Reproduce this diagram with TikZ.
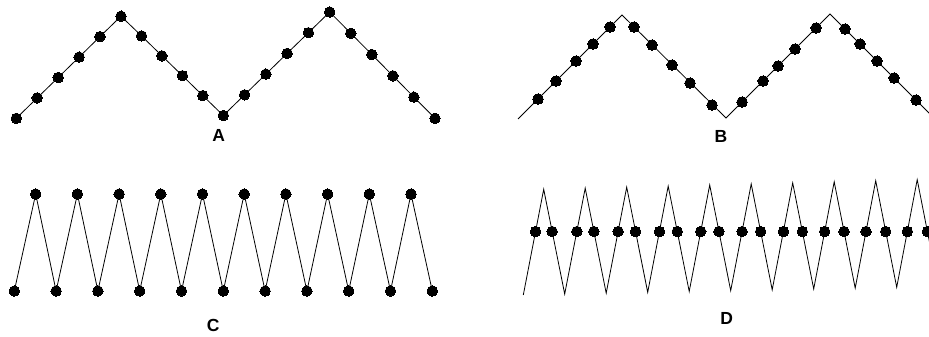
\documentclass[tikz,border=0pt]{standalone}
\usepackage{fontspec}
\setmainfont{Liberation Sans}
\usetikzlibrary{intersections}

\begin{document}
\begin{tikzpicture}[x=1pt, y=-1pt, line width=0.8pt,
		dot/.style={draw, circle, fill=black, inner sep=0pt, minimum size=10.5pt, line width=0pt},
		lbl/.style={font=\bfseries\fontsize{17.5}{17.5}\selectfont, inner sep=0pt}]
				\useasboundingbox (0,0) rectangle (929,337);
				% A
				\foreach \x/\y [count=\i] in {16.3/118.3, 37.2/97.9, 58.2/77.5, 79.1/57.1, 100/36.6, 121/16.2, 141.5/35.9, 161.9/55.8, 182.4/75.7, 202.8/95.6, 223.3/115.5, 244.6/94.8, 265.9/74.1, 287.1/53.4, 308.4/32.7, 329.7/12, 350.8/33.3, 371.8/54.5, 392.9/75.8, 413.9/97.1, 435/118.3}
					\node[dot] (a\i) at (\x,\y) {};
				\foreach \i [count=\j from 2] in {1,...,20}
					\draw (a\i) -- (a\j);
				\node[lbl] (labA) at (218.7,135.7) {A};
				% B
				\coordinate (b0) at (518,119);
				\coordinate (b1) at (622,15);
				\coordinate (b2) at (726,118);
				\coordinate (b3) at (830,14);
				\coordinate (b4) at (940,124);
				\draw (b0) -- (b1) -- (b2) -- (b3) -- (b4);
				\foreach \x/\y [count=\i] in {538/99, 556/81, 576/61, 593/44, 610/27, 634/27, 652/45, 672/65, 690/83, 712/105, 742/102, 763/81, 778/66, 795/49, 816/28, 845/29, 860/44, 877/61, 894/78, 916/100}
					\node[dot] (bd\i) at (\x,\y) {};
				\node[lbl] (labB) at (721,136.7) {B};
				% C
				\foreach \k in {0,...,10}
					\node[dot] (cb\k) at ({14.3+41.8*\k},291) {};
				\foreach \k in {0,...,9}
					\node[dot] (ct\k) at ({35.7+41.7*\k},194) {};
				\foreach \k [count=\n from 1] in {0,...,9}
					\draw (cb\k) -- (ct\k) -- (cb\n);
				\node[lbl] (labC) at (213.3,325.7) {C};
				% D
				\coordinate (d0) at (523.3,295);
				\foreach \k in {0,...,9} {
					\coordinate (dp\k) at ({543.7+41.5*\k},{189.3-1.07*\k});
					\coordinate (dq\k) at ({564.7+41.5*\k},{294-0.84*\k});
				}
				\draw[name path=zz] (d0) foreach \k in {0,...,9} {-- (dp\k) -- (dq\k)};
				\path[name path=lvl] (515,231.5) -- (940,231.5);
				\path[name intersections={of=zz and lvl, name=x, total=\t}]
					\foreach \s in {1,...,\t} {node[dot] (dd\s) at (x-\s) {}};
				\node[lbl] (labD) at (726.7,318.7) {D};
			\end{tikzpicture}
\end{document}
